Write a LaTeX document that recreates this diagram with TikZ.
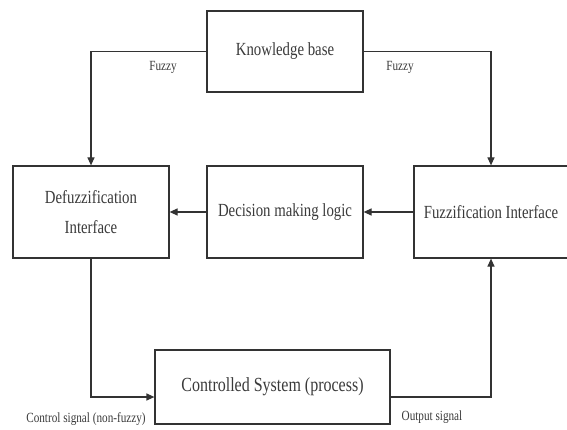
\documentclass[tikz,border=0pt]{standalone}
\usepackage{fontspec}
\setmainfont[FakeStretch=0.8]{Liberation Serif}
\usetikzlibrary{arrows.meta,calc}
\definecolor{lin}{HTML}{333333}
\definecolor{txt}{HTML}{3A3A3A}
\tikzset{
  blk/.style={draw=lin, line width=1.2pt, text=txt, inner sep=0pt, align=center,
    font=\fontsize{18.5}{30}\selectfont},
  lbl/.style={text=txt, inner sep=0pt, font=\fontsize{14}{16}\selectfont},
  arr/.style={draw=lin, line width=1.2pt, -{Triangle[length=8pt,width=7pt]}},
  ln/.style={draw=lin, line width=1.2pt}
}
\begin{document}
\begin{tikzpicture}[x=1pt,y=-1pt]
\useasboundingbox (0,0) rectangle (567,430);
\node[blk, minimum width=156pt, minimum height=81pt] (kb) at (285,51.5) {Knowledge base};
\node[blk, minimum width=156pt, minimum height=92pt] (def) at (91,212) {Defuzzification\\Interface};
\node[blk, minimum width=156pt, minimum height=92pt] (dec) at (285,212) {Decision making logic};
\node[blk, minimum width=154pt, minimum height=92pt] (fuz) at (491,212) {Fuzzification Interface};
\node[blk, minimum width=235pt, minimum height=74pt, font=\fontsize{20}{30}\selectfont] (cs) at (272.5,387) {Controlled System (process)};
\node[lbl] (fl) at (163,67) {Fuzzy};
\node[lbl] (fr) at (400,67) {Fuzzy};
\node[lbl] (cl) at (86,419) {Control signal (non-fuzzy)};
\node[lbl] (ol) at (432,417) {Output signal};
\draw[arr] (kb.west) -| (def.north);
\draw[arr] (kb.east) -| (fuz.north);
\draw[arr] (dec.west) -- (def.east);
\draw[arr] (fuz.west) -- (dec.east);
\draw[arr] (def.south) |- ([yshift=-10pt]cs.west);
\draw[arr] ([yshift=-10pt]cs.east) -| (fuz.south);
\end{tikzpicture}
\end{document}
